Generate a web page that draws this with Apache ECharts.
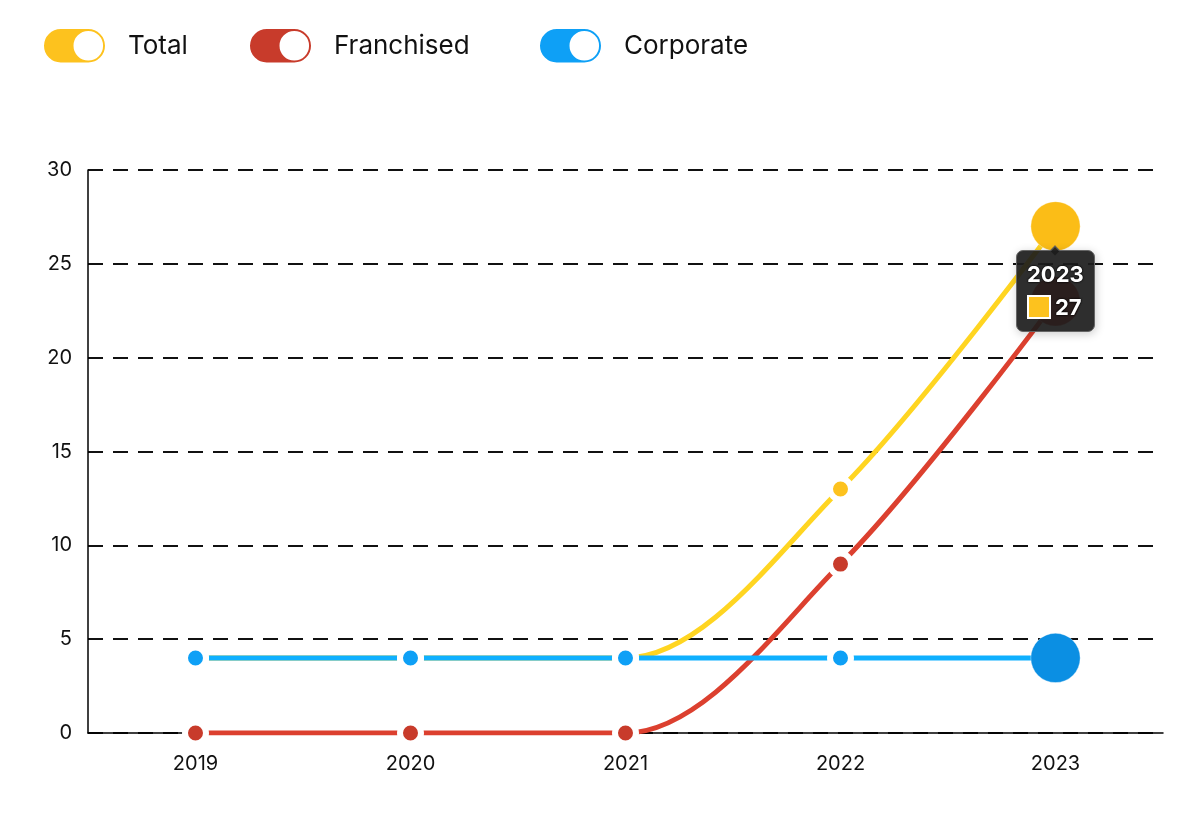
<!DOCTYPE html>
<html>
<head>
<meta charset="utf-8">
<script src="https://cdn.jsdelivr.net/npm/echarts@6/dist/echarts.min.js"></script>
<style>
    html, body {margin: 0; padding: 0; background: #fff;}
    #main {width: 1200px; height: 832px;}
</style>
</head>
<body>
<div id="main"></div>
<script>
// data
var years = ['2019', '2020', '2021', '2022', '2023'];
var totalData = [4, 4, 4, 13, 27];
var franchisedData = [0, 0, 0, 9, 23];
var corporateData = [4, 4, 4, 4, 4];
var seriesNames = ['Total', 'Franchised', 'Corporate'];
var colors = ['#FDC21E', '#C83B2B', '#0EA0F6'];

var font = 'Inter, "Noto Sans", sans-serif';
// toggle shaped legend icon (pill with a hole)
var toggleIcon = 'path://M18,0 H46 A18,18 0 0 1 46,36 H18 A18,18 0 0 1 18,0 Z M46,4 A14,14 0 0 0 46,32 A14,14 0 0 0 46,4 Z';

function makeLegend(name, left) {
    return {
        data: [name],
        left: left,
        top: 27,
        padding: 0,
        icon: toggleIcon,
        itemWidth: 63,
        itemHeight: 36,
        selectedMode: false,
        textStyle: {
            fontFamily: font,
            fontSize: 26,
            color: '#111',
            padding: [0, 0, 0, 17]
        }
    };
}

function makeSeries(i, data) {
    return {
        name: seriesNames[i],
        type: 'line',
        smooth: 0.32,
        data: data,
        symbol: 'circle',
        symbolSize: 21,
        lineStyle: {width: 5, color: colors[i]},
        itemStyle: {color: colors[i], borderColor: '#fff', borderWidth: 6},
        emphasis: {
            scale: 2.35,
            focus: 'none',
            lineStyle: {width: 5},
            itemStyle: {
                color: i == 0 ? '#FBBD17' : (i == 2 ? '#0B8FE3' : colors[i]),
                borderColor: 'rgba(255,255,255,0.6)',
                borderWidth: 0.6
            }
        }
    };
}

var myChart = echarts.init(document.getElementById('main'));
var tipFont = font.replace(/"/g, "'");
var option = {
    animation: false,
    color: colors,
    legend: [makeLegend('Total', 42), makeLegend('Franchised', 248), makeLegend('Corporate', 538)],
    grid: {left: 88, right: 37, top: 170, bottom: 99},
    tooltip: {
        trigger: 'item',
        position: 'bottom',
        transitionDuration: 0,
        backgroundColor: 'rgba(28,28,28,0.92)',
        borderColor: '#666',
        borderWidth: 1,
        borderRadius: 7,
        padding: [9, 10],
        formatter: function (p) {
            var ts = 'text-shadow:0 0 2px #000,0 0 2px #000;';
            return '<div style="font:bold 22px ' + tipFont + ';color:#fff;' + ts + 'line-height:28px">' + p.name + '</div>' +
                '<div style="font:bold 22px ' + tipFont + ';color:#fff;' + ts + 'line-height:30px;margin-top:4px">' +
                '<span style="display:inline-block;width:20px;height:20px;background:' + p.color + ';border:2px solid #fff;vertical-align:-4px;margin-right:4px"></span>' +
                p.value + '</div>';
        }
    },
    xAxis: {
        type: 'category',
        data: years,
        boundaryGap: true,
        axisLine: {lineStyle: {color: '#000', width: 1.5}},
        axisTick: {show: false},
        axisLabel: {color: '#111', fontSize: 20, fontFamily: font, margin: 21}
    },
    yAxis: {
        type: 'value',
        min: 0,
        max: 30,
        interval: 5,
        axisLine: {show: true, lineStyle: {color: '#000', width: 1.5}},
        axisTick: {show: false},
        axisLabel: {color: '#111', fontSize: 20, fontFamily: font, margin: 16},
        splitLine: {lineStyle: {color: '#111', width: 2, type: [15, 10]}}
    },
    series: [
        makeSeries(0, totalData),
        makeSeries(1, franchisedData),
        makeSeries(2, corporateData)
    ]
};
myChart.setOption(option);
myChart.dispatchAction({type: 'highlight', seriesIndex: [0, 1, 2], dataIndex: 4});
myChart.dispatchAction({type: 'showTip', seriesIndex: 0, dataIndex: 4});
</script>
</body>
</html>
